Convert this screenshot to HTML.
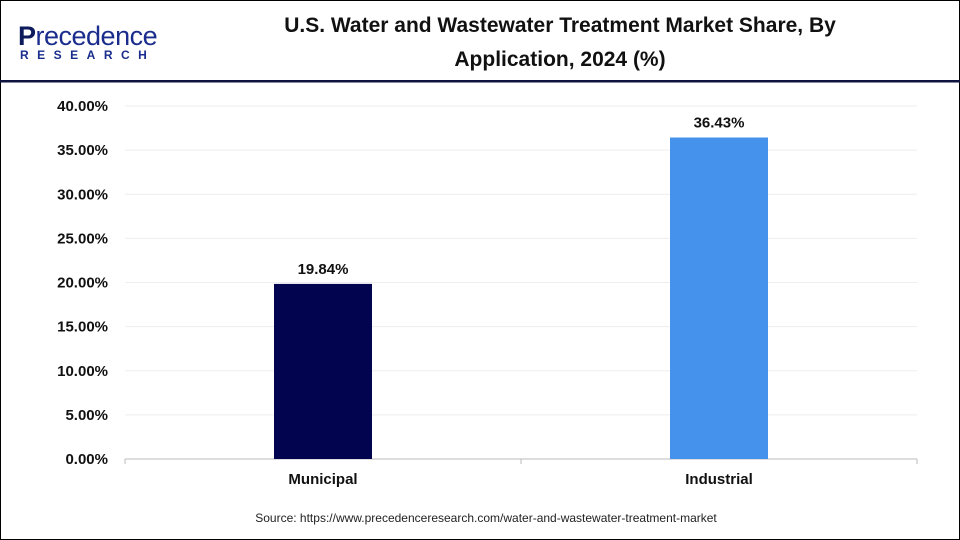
<!DOCTYPE html>
<html><head><meta charset="utf-8"><style>
body{margin:0;width:960px;height:540px;overflow:hidden;background:#fff;font-family:"Liberation Sans",Arial,sans-serif}
#frame{position:absolute;left:0;top:0;width:958px;height:538px;border:1px solid #000}
</style></head><body>
<div id="frame"></div>
<svg width="960" height="540" style="position:absolute;left:0;top:0">
<g>
<text x="18" y="45" font-size="27" fill="#0d1a5c" font-weight="bold" style="letter-spacing:-0.5px">P<tspan fill="#1a2d8c" font-weight="normal">recedence</tspan></text>
<text x="20" y="59" font-size="12" font-weight="bold" fill="#1a2d8c" style="letter-spacing:8.5px">RESEARCH</text>
</g>
<text x="560" y="32" text-anchor="middle" font-size="21" font-weight="bold" fill="#111">U.S. Water and Wastewater Treatment Market Share, By</text>
<text x="560" y="66" text-anchor="middle" font-size="21" font-weight="bold" fill="#111">Application, 2024 (%)</text>
<rect x="0" y="80" width="960" height="2.5" fill="#0d1240"/>
<g id="grid"></g><g id="bars"></g><g id="axes"></g>
<text x="486" y="522" text-anchor="middle" font-size="12" fill="#222">Source: https://www.precedenceresearch.com/water-and-wastewater-treatment-market</text>
</svg>
<script>
const categories=["Municipal","Industrial"];
const values=[19.84,36.43];
const valueLabels=["19.84%","36.43%"];
const yTicks=[0,5,10,15,20,25,30,35,40];
const colors=["#03044f","#4592ec"];
const NS="http://www.w3.org/2000/svg";
const x0=125,x1=917,yB=459,yT=106,yMax=40;
const y=v=>yB-(yB-yT)*v/yMax;
const band=(x1-x0)/categories.length;
const xc=i=>x0+band*(i+0.5);
function mk(t,a,p){const e=document.createElementNS(NS,t);for(const k in a)e.setAttribute(k,a[k]);document.getElementById(p).appendChild(e);return e;}
yTicks.forEach(t=>{
 const l=mk("line",{x1:x0,x2:x1,y1:y(t),y2:y(t),stroke:t===0?"#bbb":"#eee","stroke-width":1},"grid");
 
 
 const tx=mk("text",{x:108,y:y(t)+5,"text-anchor":"end","font-size":15,"font-weight":"bold",fill:"#111"},"axes");
 tx.textContent=t.toFixed(2)+"%";
 
 
});
[0,1,2].forEach(i=>{const l=mk("line",{x1:x0+band*i,x2:x0+band*i,y1:yB,y2:yB+5,stroke:"#bbb"},"axes");
 
 });
categories.forEach((c,i)=>{
 const r=mk("rect",{x:xc(i)-49,y:y(values[i]),width:98,height:yB-y(values[i]),fill:colors[i]},"bars");
 
 
 const v=mk("text",{x:xc(i),y:y(values[i])-10,"text-anchor":"middle","font-size":15,"font-weight":"bold",fill:"#111"},"bars");
 v.textContent=valueLabels[i];
 
 
 const cl=mk("text",{x:xc(i),y:484,"text-anchor":"middle","font-size":15,"font-weight":"bold",fill:"#111"},"axes");
 cl.textContent=c;
 
 
});
</script>
</body></html>
